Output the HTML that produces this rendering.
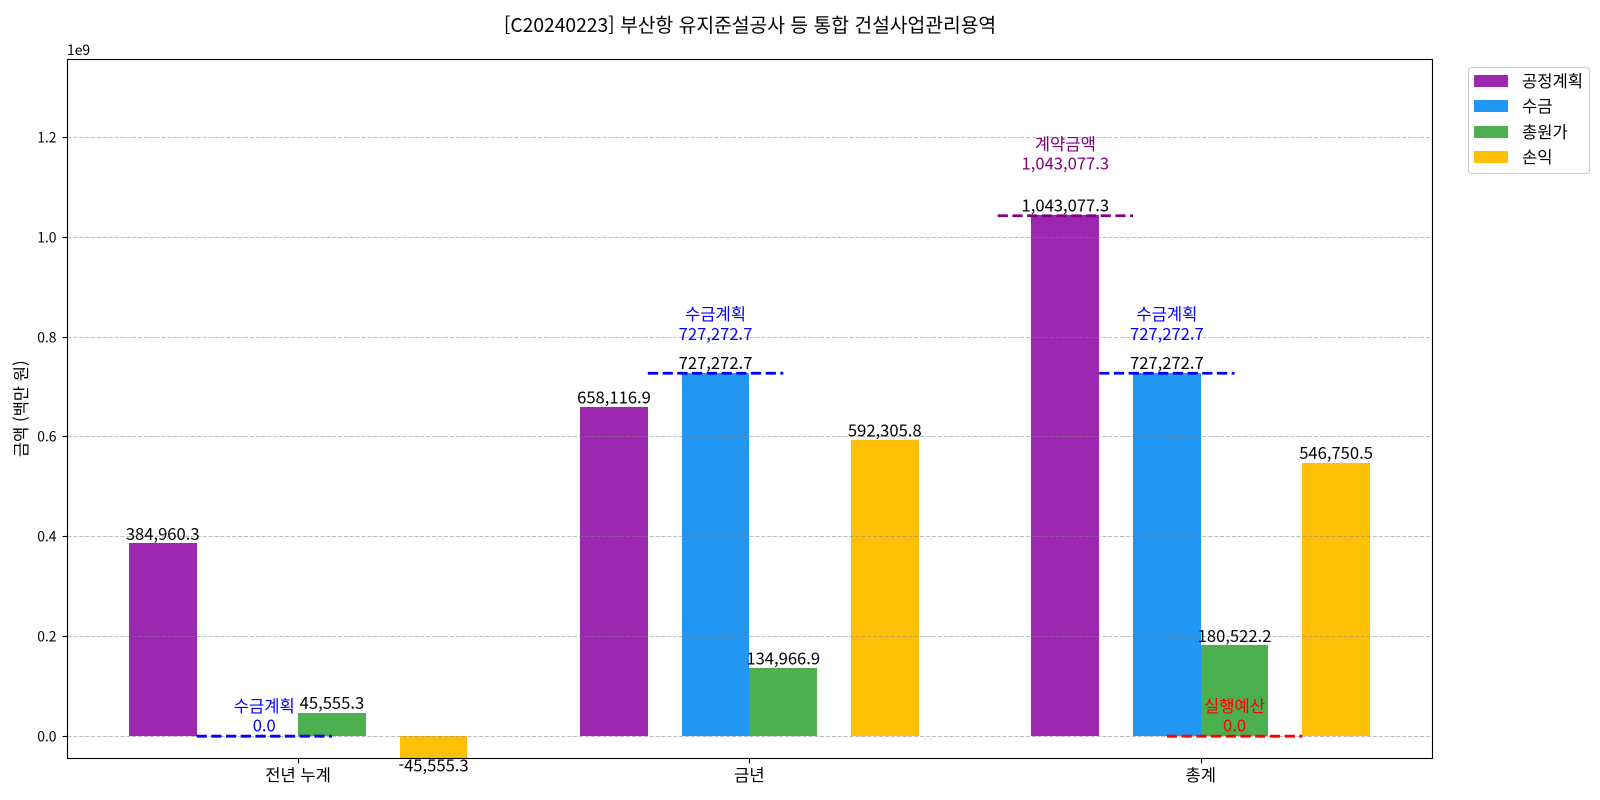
<!DOCTYPE html>
<html lang="ko">
<head>
<meta charset="utf-8">
<title>[C20240223] 부산항 유지준설공사 등 통합 건설사업관리용역</title>
<style>
html,body{margin:0;padding:0;background:#fff;}
svg{display:block;}
text{font-family:"Noto Sans CJK KR","Liberation Sans",sans-serif;fill:#000;}
.title{font-size:19.28px;text-anchor:middle;}
.tick-x,.value,.ref,.legend-text,.ylab{font-size:16.6px;}
.tick-x,.value,.ref,.ylab{text-anchor:middle;}
.tick-y{font-size:13.89px;text-anchor:end;}
.offset{font-size:13.89px;}
.s0{fill:#9C27B0;}.s1{fill:#2196F3;}.s2{fill:#4CAF50;}.s3{fill:#FFC107;}
.grid{stroke:#808080;stroke-opacity:.5;stroke-width:1.11;stroke-dasharray:4.1 1.78;}
.refline{stroke-width:2.78;stroke-dasharray:10.28 4.44;fill:none;}
.k0{stroke:#0000ff;}.k1{stroke:#800080;}.k2{stroke:#ff0000;}
text.t0{fill:#0000ff;}text.t1{fill:#800080;}text.t2{fill:#ff0000;}
.tickmark{stroke:#000;stroke-width:1.11;}
</style>
</head>
<body>
<svg id="chart" xmlns="http://www.w3.org/2000/svg" width="1600" height="800" viewBox="0 0 1600 800">
<rect x="0" y="0" width="1600" height="800" fill="#fff"/>
<defs><clipPath id="plot-clip"><rect x="67.5" y="59.5" width="1365" height="699"/></clipPath></defs>
<text class="title" x="750" y="32">[C20240223] 부산항 유지준설공사 등 통합 건설사업관리용역</text>
<text class="ylab" transform="translate(27,408.8) rotate(-90)">금액 (백만 원)</text>
<text class="offset" x="67" y="55">1e9</text>
<g id="bars" clip-path="url(#plot-clip)"></g>
<g id="grid"></g>
<g id="refs"></g>
<rect x="67.5" y="59.5" width="1365" height="699" fill="none" stroke="#000" stroke-width="1.11"/>
<g id="ticks"></g>
<g id="labels"></g>
<g>
<rect x="1468.5" y="67.5" width="121" height="106" rx="3" ry="3" fill="#fff" fill-opacity=".8" stroke="#cccccc" stroke-width="1.11"/>
<rect class="s0" x="1474" y="75" width="34" height="12"/>
<text class="legend-text" x="1522" y="87">공정계획</text>
<rect class="s1" x="1474" y="100" width="34" height="12"/>
<text class="legend-text" x="1522" y="112">수금</text>
<rect class="s2" x="1474" y="126" width="34" height="12"/>
<text class="legend-text" x="1522" y="138">총원가</text>
<rect class="s3" x="1474" y="151" width="34" height="12"/>
<text class="legend-text" x="1522" y="163">손익</text>
</g>
</svg>
<script>
const categories = ['전년 누계', '금년', '총계'];
const planValues = [384960.3, 658116.9, 1043077.3];
const collectionValues = [0, 727272.7, 727272.7];
const costValues = [45555.3, 134966.9, 180522.2];
const profitValues = [-45555.3, 592305.8, 546750.5];
const yTickLabels = ['0.0', '0.2', '0.4', '0.6', '0.8', '1.0', '1.2'];
const yTickValues = [0, 0.2, 0.4, 0.6, 0.8, 1.0, 1.2];
const refNames = ['수금계획', '수금계획', '수금계획', '계약금액', '실행예산'];
const refValues = [0, 727272.7, 727272.7, 1043077.3, 0];
const refCategory = [0, 1, 2, 2, 2];
const refSeries = [1, 1, 1, 0, 2];
const refKind = [0, 0, 0, 1, 2];

const SVG_NS = 'http://www.w3.org/2000/svg';
const series = [planValues, collectionValues, costValues, profitValues];
const seriesNames = ['plan', 'collection', 'cost', 'profit'];
const seriesOffset = [-0.3, -0.075, 0.075, 0.3];
const BAR_W = 0.15;
const xScale = c => 298.1 + c * 451.3;
const yScale = v => 736.2 - v * 499;          // v in units of 1e9
const yBar = v => Math.round(735.5 - v * 499); // pixel-snapped bar edge
const toAxis = thousand => thousand * 1000 / 1e9;
const fmt = v => v.toLocaleString('en-US', {minimumFractionDigits: 1, maximumFractionDigits: 1});
function make(tag, attrs, parent, txt) {
  const el = document.createElementNS(SVG_NS, tag);
  Object.keys(attrs).forEach(k => el.setAttribute(k, attrs[k]));
  if (txt !== undefined) el.textContent = txt;
  parent.appendChild(el);
  return el;
}
const gBars = document.getElementById('bars');
const gGrid = document.getElementById('grid');
const gRefs = document.getElementById('refs');
const gTicks = document.getElementById('ticks');
const gLabels = document.getElementById('labels');

series.forEach((vals, s) => {
  vals.forEach((v, c) => {
    const xa = xScale(c + seriesOffset[s] - BAR_W / 2);
    const xb = xScale(c + seriesOffset[s] + BAR_W / 2);
    const x0 = Math.round(xa);
    const x1 = Math.round(xb);
    const y0 = yBar(0);
    const yv = yBar(toAxis(v));
    const bar = make('rect', {class: 's' + s, x: x0, y: Math.min(y0, yv), width: x1 - x0, height: Math.abs(yv - y0)}, gBars);
    
    
    if (v !== 0) {
      const cx = (xa + xb) / 2;
      const yt = yScale(toAxis(v));
      const ty = v > 0 ? yt - 4.3 : yt + 12.6;
      const lab = make('text', {class: 'value', x: cx, y: ty}, gLabels, fmt(v));
      
      
    }
  });
});

yTickValues.forEach((t, i) => {
  const y = Math.floor(yScale(t)) + 0.5;
  const line = make('line', {class: 'grid', x1: 67.5, x2: 1432.5, y1: y, y2: y}, gGrid);
  
  
  const mark = make('line', {class: 'tickmark', x1: 62.6, x2: 67.5, y1: y, y2: y}, gTicks);
  
  
  const lab = make('text', {class: 'tick-y', x: 56.5, y: y + 5}, gTicks, yTickLabels[i]);
  
  
});

categories.forEach((name, c) => {
  const x = xScale(c);
  const xs = Math.round(x) + 0.5;
  const mark = make('line', {class: 'tickmark', x1: xs, x2: xs, y1: 758.5, y2: 763.4}, gTicks);
  
  
  const lab = make('text', {class: 'tick-x', x: x, y: 781}, gTicks, name);
  
  
});

refNames.forEach((name, i) => {
  const c = refCategory[i] + seriesOffset[refSeries[i]];
  const cx = xScale(c);
  const yv = yScale(toAxis(refValues[i]));
  const line = make('line', {class: 'refline k' + refKind[i], x1: xScale(c - 0.15), x2: xScale(c + 0.15), y1: yv, y2: yv}, gRefs);
  
  
  const base = yScale(toAxis(refValues[i]) * 1.08) - 4.5;
  const valueText = make('text', {class: 'ref t' + refKind[i], x: cx, y: base}, gLabels, fmt(refValues[i]));
  
  
  const nameText = make('text', {class: 'ref t' + refKind[i], x: cx, y: base - 19.8}, gLabels, name);
  
  
});
</script>
</body>
</html>
